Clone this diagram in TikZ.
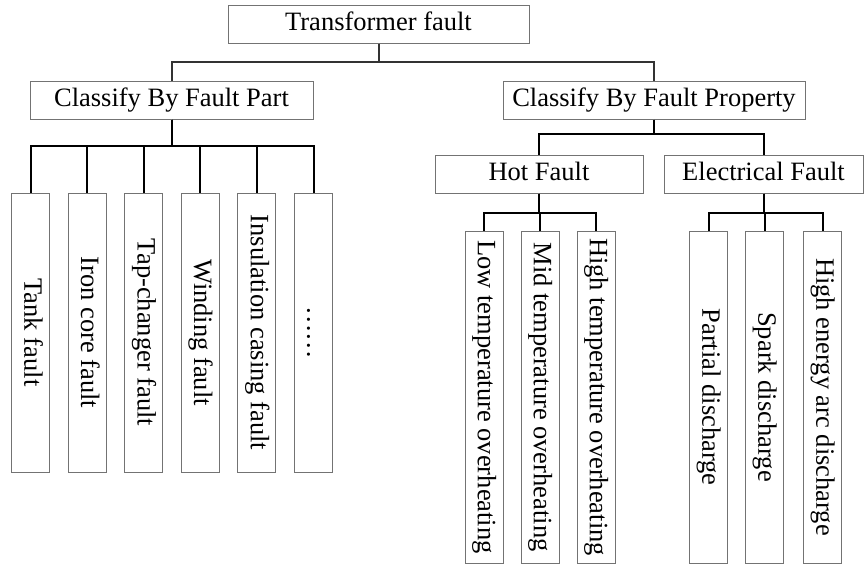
\documentclass[tikz,border=0pt]{standalone}
\usepackage{fontspec}
\setmainfont{Liberation Serif}

\begin{document}
\begin{tikzpicture}[x=1pt, y=-1pt,
		box/.style={draw=black!55, line width=1pt, inner sep=0pt, minimum height=38pt,
			font=\fontsize{26.5}{30}\selectfont, text height=18pt, text depth=5.8pt},
		vbox/.style={box, rotate=-90},
		link/.style={line width=2pt, black},
		toplink/.style={line width=2pt, black!80}]
		\useasboundingbox (0, 0) rectangle (864, 565);

		\node[box, minimum width=301pt] (fault)	at (378.5, 24) {Transformer fault};
		\node[box, minimum width=283pt] (part)	at (171.5, 100) {Classify By Fault Part};
		\node[box, minimum width=302pt] (prop)	at (654, 100) {Classify By Fault Property};
		\node[box, minimum width=208pt] (hot)	at (539, 174) {Hot Fault};
		\node[box, minimum width=199pt] (elec)	at (763.5, 174) {Electrical Fault};

		% fault part
		\node[vbox, minimum width=279pt] (tank)		at (30.5, 332.5) {Tank fault};
		\node[vbox, minimum width=279pt] (core)		at (87.1, 332.5) {Iron core fault};
		\node[vbox, minimum width=279pt] (tap)		at (143.7, 332.5) {Tap-changer fault};
		\node[vbox, minimum width=279pt] (winding)	at (200.3, 332.5) {Winding fault};
		\node[vbox, minimum width=279pt] (casing)	at (256.9, 332.5) {Insulation casing fault};
		\node[vbox, minimum width=279pt] (more)		at (313.5, 332.5) {……};

		% fault property
		\node[vbox, minimum width=332pt] (low)		at (484, 397) {Low temperature overheating};
		\node[vbox, minimum width=332pt] (mid)		at (540, 397) {Mid temperature overheating};
		\node[vbox, minimum width=332pt] (high)		at (596, 397) {High temperature overheating};
		\node[vbox, minimum width=332pt] (partial)	at (708.5, 397) {Partial discharge};
		\node[vbox, minimum width=332pt] (spark)	at (764.5, 397) {Spark discharge};
		\node[vbox, minimum width=332pt] (arc)		at (822.5, 397) {High energy arc discharge};

		\draw[toplink]	(fault.south) -- ++(0, 18) -| (part.north);
		\draw[toplink]	(fault.south) -- ++(0, 18) -| (prop.north);

		\draw[link]	(part.south) -- ++(0, 26) -| (tank.west);
		\draw[link]	(part.south) -- ++(0, 26) -| (core.west);
		\draw[link]	(part.south) -- ++(0, 26) -| (tap.west);
		\draw[link]	(part.south) -- ++(0, 26) -| (winding.west);
		\draw[link]	(part.south) -- ++(0, 26) -| (casing.west);
		\draw[link]	(part.south) -- ++(0, 26) -| (more.west);

		\draw[link]	(prop.south) -- ++(0, 14) -| (hot.north);
		\draw[link]	(prop.south) -- ++(0, 14) -| (elec.north);

		\draw[link]	(hot.south) -- ++(0, 19) -| (low.west);
		\draw[link]	(hot.south) -- ++(0, 19) -| (mid.west);
		\draw[link]	(hot.south) -- ++(0, 19) -| (high.west);
		\draw[link]	(elec.south) -- ++(0, 19) -| (partial.west);
		\draw[link]	(elec.south) -- ++(0, 19) -| (spark.west);
		\draw[link]	(elec.south) -- ++(0, 19) -| (arc.west);
	\end{tikzpicture}
\end{document}
